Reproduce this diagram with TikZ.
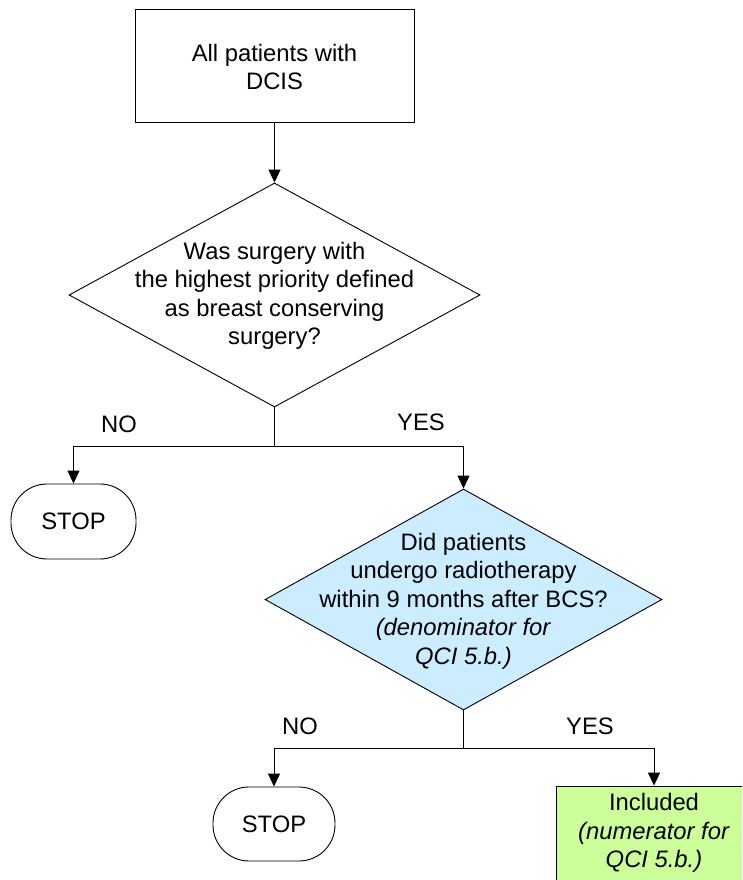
\documentclass[tikz,border=0pt]{standalone}
\usepackage{fontspec}
\setmainfont{Liberation Sans}
\usetikzlibrary{arrows.meta,shapes.geometric}
\definecolor{dblue}{RGB}{204,236,255}
\definecolor{igreen}{RGB}{204,255,153}
\tikzset{
  every node/.style={font=\fontsize{23.8}{28.5}\selectfont, text=black},
  box/.style={draw, line width=0.9pt, rectangle, inner sep=0pt},
  dia/.style={draw, line width=0.9pt, diamond, inner sep=0pt},
  stopbox/.style={draw, line width=0.9pt, rectangle, rounded corners=36pt, inner sep=0pt, minimum width=125pt, minimum height=75pt},
  txt/.style={align=center, inner sep=0pt},
  conn/.style={line width=0.9pt, -{Triangle[width=12pt,length=13pt]}},
  plain/.style={line width=0.9pt},
}
\begin{document}
\begin{tikzpicture}[x=1pt,y=-1pt]
\useasboundingbox (0,0) rectangle (742,880);
\clip (0,0) rectangle (742,880);
% start box
\node[box, minimum width=279pt, minimum height=113pt] (start) at (274.5,65.5) {};
\node[txt] (startt) at (274.5,67) {All patients with\\DCIS};
% diamond 1
\node[dia, minimum width=411pt, minimum height=224pt] (d1) at (274.5,295) {};
\node[txt] (d1t) at (274.5,296) {Was surgery with\\the highest priority defined\\as breast conserving\\surgery?};
\coordinate (b1) at (274.5,446);
% stop 1
\node[stopbox] (stop1) at (73.5,521.5) {STOP};
% diamond 2
\node[dia, fill=dblue, minimum width=397pt, minimum height=221pt] (d2) at (463.5,599.5) {};
\node[txt] (d2t) at (463.5,601) {Did patients\\undergo radiotherapy\\within 9 months after BCS?\\\textit{(denominator for}\\\textit{QCI 5.b.)}};
\coordinate (b2) at (463.5,748);
% stop 2
\node[stopbox, minimum width=122pt, minimum height=74pt] (stop2) at (274,824) {STOP};
% included
\node[box, fill=igreen, minimum width=195pt, minimum height=96pt] (inc) at (654,834) {};
\node[txt] (inct) at (654,833) {Included\\\textit{(numerator for}\\\textit{QCI 5.b.)}};
% labels
\node (no1) at (119,424) {NO};
\node (yes1) at (421,422) {YES};
\node (no2) at (300,726) {NO};
\node (yes2) at (590,726) {YES};
% connectors
\draw[conn] (start.south) -- (d1.north);
\draw[plain] (d1.south) -- (b1);
\draw[conn] (b1) -| (stop1.north);
\draw[conn] (b1) -| (d2.north);
\draw[plain] (d2.south) -- (b2);
\draw[conn] (b2) -| (stop2.north);
\draw[conn] (b2) -| (inc.north);
\end{tikzpicture}
\end{document}
